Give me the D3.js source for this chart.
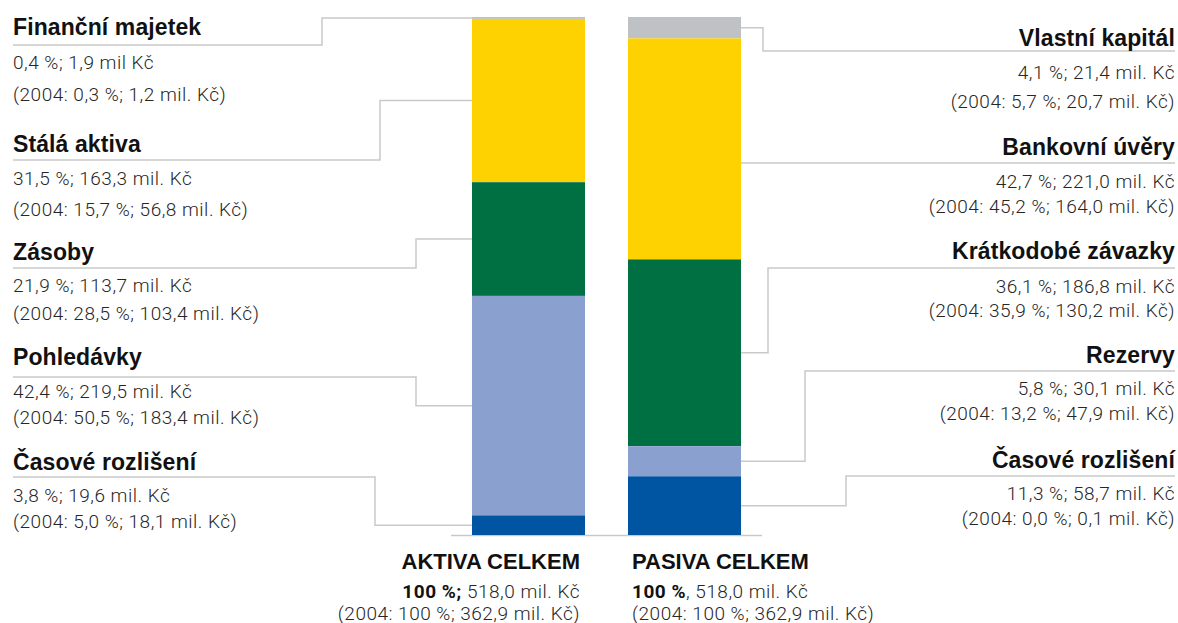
<!DOCTYPE html>
<html>
<head>
<meta charset="utf-8">
<script src="https://cdn.jsdelivr.net/npm/d3@7"></script>
<style>
  html, body { margin: 0; padding: 0; background: #fff; }
  svg { display: block; }
  .title { font-family: "Liberation Sans", Arial, sans-serif; font-weight: bold; font-size: 23px; fill: #111; letter-spacing: 0.1px; }
  .ttl2 { font-size: 22px; letter-spacing: 0px; }
  .sub { font-family: Roboto, "Liberation Sans", sans-serif; font-weight: 300; font-size: 19px; fill: #262626; letter-spacing: 0.5px; }
  .subb { font-weight: 700; fill: #111; }
</style>
</head>
<body>
<svg id="chart" width="1178" height="623"></svg>
<script>
// ---------- data ----------
const columns = ["Aktiva", "Pasiva"];

const aktivaCategories = ["Finanční majetek", "Stálá aktiva", "Zásoby", "Pohledávky", "Časové rozlišení"];
const aktivaValues     = [1.9, 163.3, 113.7, 219.5, 19.6];          // mil. Kč
const aktivaPct        = [0.4, 31.5, 21.9, 42.4, 3.8];
const aktiva2004Pct    = [0.3, 15.7, 28.5, 50.5, 5.0];
const aktiva2004Values = [1.2, 56.8, 103.4, 183.4, 18.1];

const pasivaCategories = ["Vlastní kapitál", "Bankovní úvěry", "Krátkodobé závazky", "Rezervy", "Časové rozlišení"];
const pasivaValues     = [21.4, 221.0, 186.8, 30.1, 58.7];
const pasivaPct        = [4.1, 42.7, 36.1, 5.8, 11.3];
const pasiva2004Pct    = [5.7, 45.2, 35.9, 13.2, 0.0];
const pasiva2004Values = [20.7, 164.0, 130.2, 47.9, 0.1];

const totalLabels  = ["AKTIVA CELKEM", "PASIVA CELKEM"];
const totalPct     = [100, 100];
const totalValues  = [518.0, 518.0];
const total2004Pct = [100, 100];
const total2004Val = [362.9, 362.9];

// ---------- styles / layout ----------
const segColors = ["#bfc2c5", "#fdd200", "#006f41", "#8aa0cf", "#0055a3"];
const lineColor = "#c9c9c9";

// label block layout: title centre y, underline y, line1 centre y, line2 centre y, elbow x
const leftLayout = [
  { t: 27,  u: 45,  l1: 62,  l2: 94,  ex: 322 },
  { t: 144, u: 160, l1: 178, l2: 209, ex: 380 },
  { t: 252, u: 268, l1: 285, l2: 313, ex: 416 },
  { t: 357, u: 377, l1: 391, l2: 417, ex: 416 },
  { t: 462, u: 477, l1: 495, l2: 521, ex: 375 }
];
const rightLayout = [
  { t: 38,  u: 51,  l1: 72,  l2: 101, ex: 763 },
  { t: 147, u: 163, l1: 181, l2: 206, ex: null },
  { t: 251, u: 268, l1: 286, l2: 310, ex: 768 },
  { t: 355, u: 371, l1: 388, l2: 413, ex: 805 },
  { t: 460, u: 476, l1: 493, l2: 518, ex: 846 }
];

const fmt = v => d3.format(".1f")(v).replace(".", ",");

const svg = d3.select("#chart");
const x = d3.scaleBand().domain(columns).range([472, 741]).paddingInner(0.2756).paddingOuter(0);
const total = d3.sum(aktivaValues);
const y = d3.scaleLinear().domain([0, total]).range([17, 535]);  // measured from top of stack

function stackTop(values) {
  let acc = 0;
  return values.map(v => { const s = acc; acc += v; return { y0: s, y1: acc, v }; });
}
const aktStack = stackTop(aktivaValues);
const pasStack = stackTop(pasivaValues);

// baseline under bars
svg.append("line")
  .attr("x1", 451).attr("x2", 762).attr("y1", y(total) + 0.5).attr("y2", y(total) + 0.5)
  .attr("stroke", lineColor).attr("stroke-width", 1.5);

// bars
[[aktStack, "Aktiva"], [pasStack, "Pasiva"]].forEach(([st, col]) => {
  svg.append("g").selectAll("rect").data(st).join("rect")
    .attr("x", x(col))
    .attr("width", x.bandwidth())
    .attr("y", d => y(d.y0))
    .attr("height", d => y(d.y1) - y(d.y0))
    .attr("fill", (d, i) => segColors[i]);
});

// leaders
const leaderG = svg.append("g").attr("fill", "none").attr("stroke", lineColor).attr("stroke-width", 1.5);
const leftEdge = x("Aktiva");
const rightEdge = x("Pasiva") + x.bandwidth();
aktStack.forEach((d, i) => {
  const L = leftLayout[i];
  const ay = (y(d.y0) + y(d.y1)) / 2;
  leaderG.append("path").attr("d", d3.line()([[13, L.u], [L.ex, L.u], [L.ex, ay], [leftEdge, ay]]));
});
pasStack.forEach((d, i) => {
  const L = rightLayout[i];
  const ay = (y(d.y0) + y(d.y1)) / 2;
  const pts = L.ex === null ? [[rightEdge, L.u], [1175, L.u]]
                            : [[rightEdge, ay], [L.ex, ay], [L.ex, L.u], [1175, L.u]];
  leaderG.append("path").attr("d", d3.line()(pts));
});

// labels
function block(cats, pct, vals, p04, v04, layout, xPos, anchor, noDotFirst) {
  const g = svg.append("g").attr("text-anchor", anchor);
  cats.forEach((c, i) => {
    const L = layout[i];
    g.append("text").attr("class", "title").attr("x", xPos).attr("y", L.t).attr("dy", "0.35em").text(c);
    const mil = (noDotFirst && i === 0) ? " mil Kč" : " mil. Kč";
    g.append("text").attr("class", "sub").attr("x", xPos).attr("y", L.l1).attr("dy", "0.35em")
      .text(`${fmt(pct[i])} %; ${fmt(vals[i])}${mil}`);
    g.append("text").attr("class", "sub").attr("x", xPos).attr("y", L.l2).attr("dy", "0.35em")
      .text(`(2004: ${fmt(p04[i])} %; ${fmt(v04[i])} mil. Kč)`);
  });
}
block(aktivaCategories, aktivaPct, aktivaValues, aktiva2004Pct, aktiva2004Values, leftLayout, 13, "start", true);
block(pasivaCategories, pasivaPct, pasivaValues, pasiva2004Pct, pasiva2004Values, rightLayout, 1175, "end", false);

// totals
const totG = svg.append("g");
[0, 1].forEach(i => {
  const left = i === 0;
  const xPos = left ? 580 : 632;
  const anchor = left ? "end" : "start";
  totG.append("text").attr("class", "title ttl2").attr("x", xPos).attr("y", 561).attr("dy", "0.35em")
    .attr("text-anchor", anchor).text(totalLabels[i]);
  const t = totG.append("text").attr("class", "sub").attr("x", xPos).attr("y", 591).attr("dy", "0.35em")
    .attr("text-anchor", anchor);
  if (left) {
    t.append("tspan").attr("class", "subb").text(`${totalPct[i]} %;`);
    t.append("tspan").text(` ${fmt(totalValues[i])} mil. Kč`);
  } else {
    t.append("tspan").attr("class", "subb").text(`${totalPct[i]} %`);
    t.append("tspan").text(`, ${fmt(totalValues[i])} mil. Kč`);
  }
  totG.append("text").attr("class", "sub").attr("x", xPos).attr("y", 613).attr("dy", "0.35em")
    .attr("text-anchor", anchor).text(`(2004: ${total2004Pct[i]} %; ${fmt(total2004Val[i])} mil. Kč)`);
});
</script>
</body>
</html>
